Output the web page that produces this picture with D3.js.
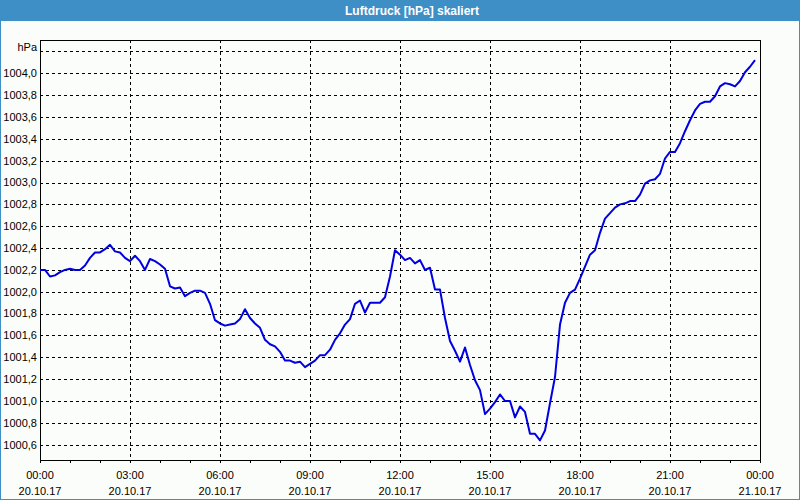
<!DOCTYPE html>
<html><head><meta charset="utf-8">
<script src="https://cdn.jsdelivr.net/npm/d3@7"></script>
<style>
html,body{margin:0;padding:0;background:#fbfdfb;}
svg{display:block;}
text{font-family:"Liberation Sans",Arial,sans-serif;}
</style></head>
<body>
<svg id="c" width="800" height="500"></svg>
<script>
const title = "Luftdruck [hPa] skaliert";
const unitLabel = "hPa";
const times = [
"00:00","00:10","00:20","00:30","00:40","00:50","01:00","01:10","01:20","01:30","01:40","01:50",
"02:00","02:10","02:20","02:30","02:40","02:50","03:00","03:10","03:20","03:30","03:40","03:50",
"04:00","04:10","04:20","04:30","04:40","04:50","05:00","05:10","05:20","05:30","05:40","05:50",
"06:00","06:10","06:20","06:30","06:40","06:50","07:00","07:10","07:20","07:30","07:40","07:50",
"08:00","08:10","08:20","08:30","08:40","08:50","09:00","09:10","09:20","09:30","09:40","09:50",
"10:00","10:10","10:20","10:30","10:40","10:50","11:00","11:10","11:20","11:30","11:40","11:50",
"12:00","12:10","12:20","12:30","12:40","12:50","13:00","13:10","13:20","13:30","13:40","13:50",
"14:00","14:10","14:20","14:30","14:40","14:50","15:00","15:10","15:20","15:30","15:40","15:50",
"16:00","16:10","16:20","16:30","16:40","16:50","17:00","17:10","17:20","17:30","17:40","17:50",
"18:00","18:10","18:20","18:30","18:40","18:50","19:00","19:10","19:20","19:30","19:40","19:50",
"20:00","20:10","20:20","20:30","20:40","20:50","21:00","21:10","21:20","21:30","21:40","21:50",
"22:00","22:10","22:20","22:30","22:40","22:50","23:00","23:10","23:20","23:30","23:40","23:50"];
const pressure = [
1002.20,1002.20,1002.14,1002.15,1002.18,1002.20,1002.21,1002.20,1002.20,1002.24,1002.31,1002.36,
1002.36,1002.39,1002.43,1002.37,1002.36,1002.31,1002.28,1002.33,1002.28,1002.20,1002.30,1002.28,
1002.25,1002.21,1002.05,1002.03,1002.04,1001.96,1001.99,1002.01,1002.01,1001.99,1001.89,1001.74,
1001.71,1001.69,1001.70,1001.71,1001.75,1001.84,1001.76,1001.71,1001.67,1001.56,1001.52,1001.50,
1001.45,1001.37,1001.37,1001.35,1001.36,1001.31,1001.34,1001.37,1001.42,1001.42,1001.47,1001.56,
1001.62,1001.70,1001.75,1001.89,1001.92,1001.81,1001.90,1001.90,1001.90,1001.95,1002.14,1002.38,
1002.34,1002.29,1002.31,1002.26,1002.29,1002.20,1002.22,1002.02,1002.02,1001.76,1001.55,1001.46,
1001.36,1001.49,1001.33,1001.19,1001.10,1000.88,1000.93,1000.99,1001.06,1001.00,1001.00,1000.85,
1000.95,1000.90,1000.70,1000.70,1000.64,1000.73,1000.98,1001.22,1001.70,1001.90,1001.99,1002.02,
1002.12,1002.23,1002.34,1002.38,1002.54,1002.67,1002.72,1002.77,1002.80,1002.81,1002.83,1002.83,
1002.89,1002.99,1003.02,1003.03,1003.08,1003.22,1003.28,1003.28,1003.36,1003.47,1003.57,1003.66,
1003.72,1003.74,1003.74,1003.79,1003.88,1003.91,1003.90,1003.88,1003.93,1004.01,1004.06,1004.12];
const yTicks = [1000.6,1000.8,1001.0,1001.2,1001.4,1001.6,1001.8,1002.0,1002.2,1002.4,1002.6,1002.8,1003.0,1003.2,1003.4,1003.6,1003.8,1004.0,1004.2];
const yLabels = ["1000,6","1000,8","1001,0","1001,2","1001,4","1001,6","1001,8","1002,0","1002,2","1002,4","1002,6","1002,8","1003,0","1003,2","1003,4","1003,6","1003,8","1004,0",""];
const yDomain = [1000.46, 1004.305];
const dayStart = "2017-10-20";
const dayEnd = "2017-10-21";

const svg = d3.select("#c");
const W = 800, H = 500;
const m = {l:40, t:40, r:760, b:460};
const parseDT = d3.timeParse("%Y-%m-%d %H:%M");
const t0 = parseDT(dayStart + " 00:00"), t1 = parseDT(dayEnd + " 00:00");
const x = d3.scaleTime().domain([t0, t1]).range([m.l, m.r]);
const y = d3.scaleLinear().domain(yDomain).range([m.b, m.t]);

// background and frame
svg.append("rect").attr("x",0).attr("y",0).attr("width",W).attr("height",H).attr("fill","#fbfdfb");
svg.append("rect").attr("x",0).attr("y",0).attr("width",W).attr("height",21).attr("fill","#3d8fc6");
svg.append("rect").attr("x",0.5).attr("y",0.5).attr("width",W-1).attr("height",H-1)
  .attr("fill","none").attr("stroke","#3d8fc6").attr("stroke-width",1).attr("shape-rendering","crispEdges");
svg.append("text").attr("x",412).attr("y",15).attr("text-anchor","middle")
  .attr("fill","#ffffff").attr("font-weight","bold").attr("font-size","12px").text(title);

// horizontal grid
const gy = svg.append("g").attr("shape-rendering","crispEdges");
gy.selectAll("line").data(yTicks).join("line")
  .attr("x1",m.l).attr("x2",m.r)
  .attr("y1",d=>Math.round(y(d))+0.5).attr("y2",d=>Math.round(y(d))+0.5)
  .attr("stroke","#000").attr("stroke-dasharray","3,3");

// vertical grid every 3h
const majorTicks = x.ticks(d3.timeHour.every(3));
const gx = svg.append("g").attr("shape-rendering","crispEdges");
gx.selectAll("line").data(majorTicks.filter(d=>+d!==+t0 && +d!==+t1)).join("line")
  .attr("x1",d=>Math.round(x(d))+0.5).attr("x2",d=>Math.round(x(d))+0.5)
  .attr("y1",m.t).attr("y2",m.b)
  .attr("stroke","#000").attr("stroke-dasharray","3,3");

// y labels
svg.append("g").selectAll("text").data(yTicks.map((v,i)=>({v,l:yLabels[i]})).filter(d=>d.l)).join("text")
  .attr("x",37).attr("y",d=>y(d.v)).attr("dy","0.35em").attr("text-anchor","end")
  .attr("font-size","11px").attr("fill","#000").text(d=>d.l);
svg.append("text").attr("x",37).attr("y",47).attr("dy","0.35em").attr("text-anchor","end")
  .attr("font-size","11px").attr("fill","#000").text(unitLabel);

// x axis ticks (hourly) and labels
const xAxis = d3.axisBottom(x).ticks(d3.timeHour.every(1)).tickSize(3).tickFormat("");
const gxa = svg.append("g").attr("transform",`translate(0,${m.b})`).attr("shape-rendering","crispEdges").call(xAxis);
gxa.select(".domain").remove();
gxa.selectAll(".tick line").attr("stroke","#000");

const fTime = d3.timeFormat("%H:%M"), fDate = d3.timeFormat("%d.%m.%y");
const lab = svg.append("g").selectAll("g").data(majorTicks).join("g")
  .attr("transform",d=>`translate(${x(d)},0)`);
lab.append("text").attr("y",479).attr("text-anchor","middle").attr("font-size","11px").attr("fill","#000").text(d=>fTime(d));
lab.append("text").attr("y",495).attr("text-anchor","middle").attr("font-size","11px").attr("fill","#000").text(d=>fDate(d));

// plot frame
svg.append("rect").attr("x",m.l+0.5).attr("y",m.t+0.5).attr("width",m.r-m.l).attr("height",m.b-m.t)
  .attr("fill","none").attr("stroke","#000").attr("shape-rendering","crispEdges");

// line
const data = times.map((t,i)=>({t:parseDT(dayStart+" "+t), v:pressure[i]}));
const line = d3.line().x(d=>x(d.t)).y(d=>y(d.v));
svg.append("path").datum(data).attr("d",line).attr("fill","none")
  .attr("stroke","#0000e0").attr("stroke-width",2).attr("stroke-linejoin","round");
</script>
</body></html>
